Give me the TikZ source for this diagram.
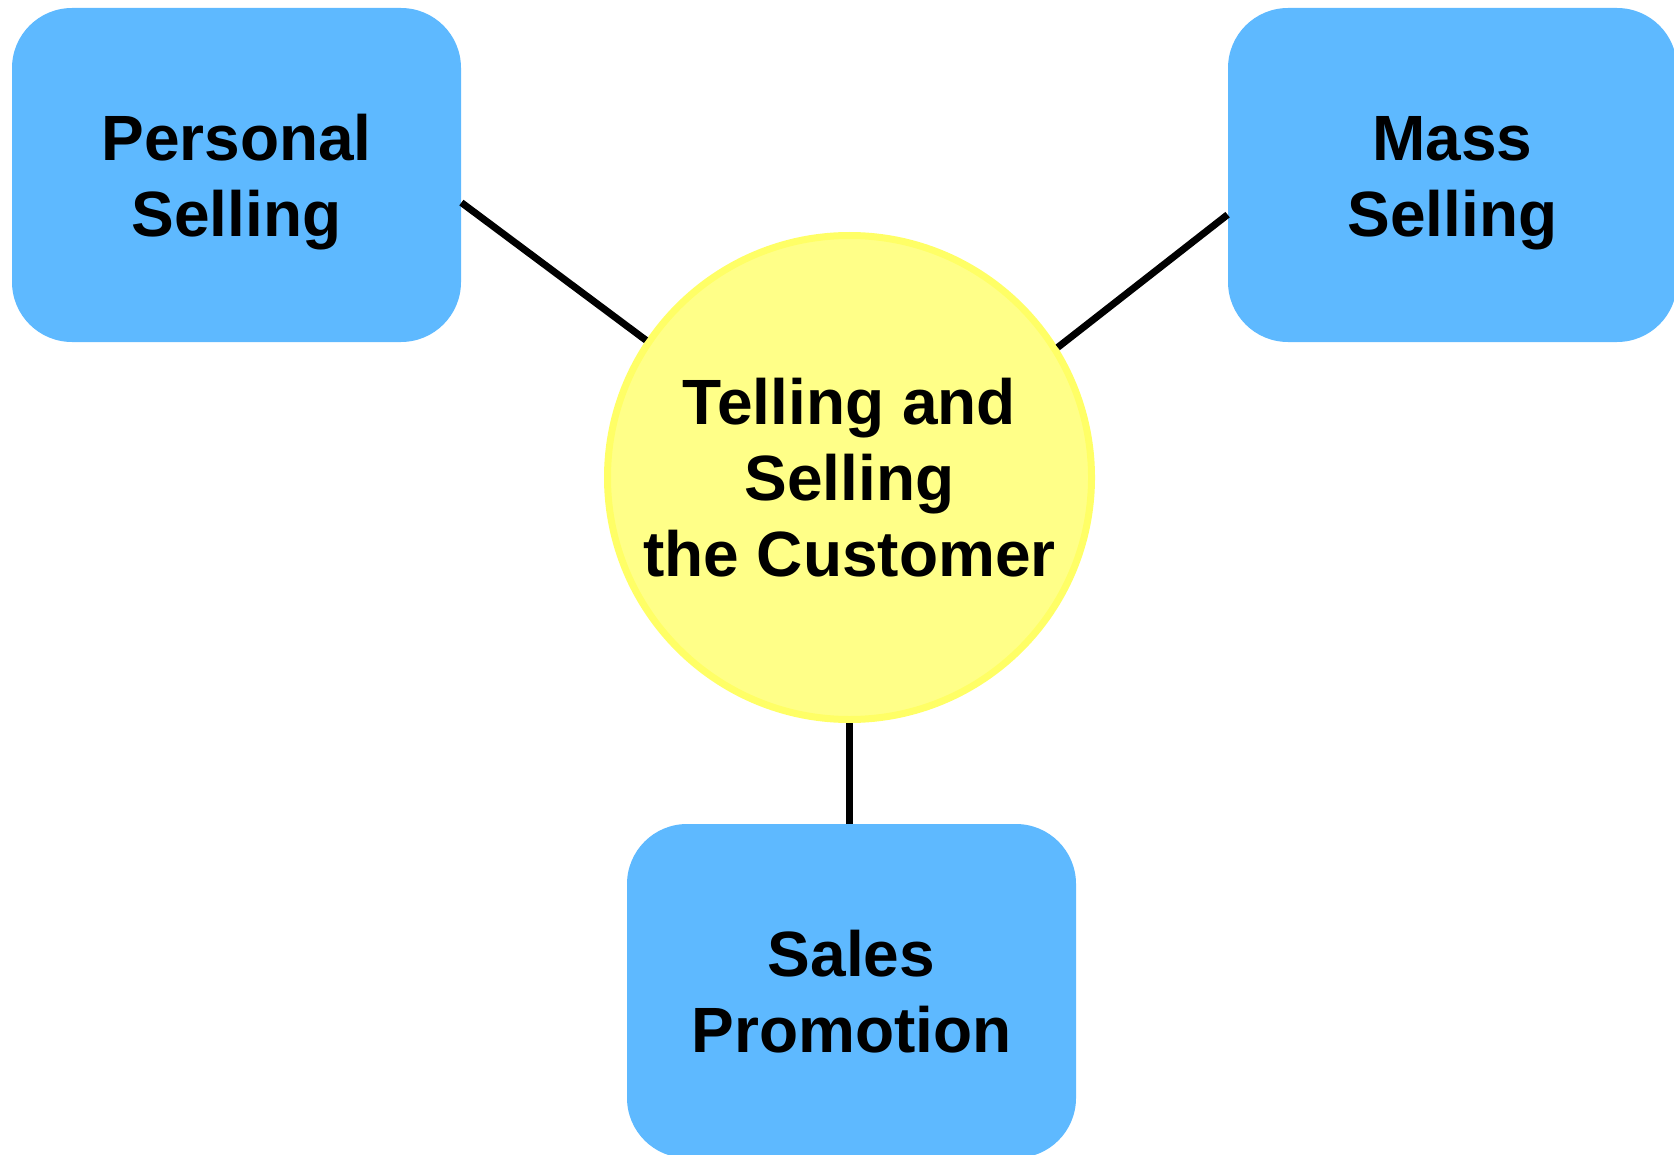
\documentclass[tikz,border=0pt]{standalone}
\usepackage{fontspec}
\setmainfont{Liberation Sans}
\usepackage{xcolor}
\usepackage{tikz}
\usetikzlibrary{positioning}

\definecolor{boxblue}{RGB}{94,185,255}
\definecolor{suncore}{RGB}{255,255,136}
\definecolor{sunrim}{RGB}{255,255,102}
\newcommand{\capstrut}[1][30.5pt]{\rule{0pt}{#1}}

\begin{document}
\begin{tikzpicture}[x=0.5pt,y=0.5pt,yscale=-1,xscale=1,
  labeltext/.style={align=center, inner sep=0pt, font=\fontsize{32}{38}\selectfont\bfseries},
  promobox/.style={labeltext, rectangle, rounded corners=30pt, fill=boxblue,
    minimum width=224.5pt, minimum height=167pt},
  hub/.style={labeltext, circle, fill=suncore, draw=sunrim, line width=3.5pt, minimum size=242pt},
  link/.style={draw=black, line width=3.5pt}]
%set diagram left start at 0, and has height of 1155
\useasboundingbox (0,0) rectangle (1674,1155);
\clip (0,0) rectangle (1674,1155);

%Shape: Circle [id:hub]
\node [hub] (tc) at (849.5,477.5) {\capstrut[22pt]Telling and\\Selling\\the Customer};

%Shape: Rounded Rect [id:boxes]
\node [promobox] (ps) at (236.5,175) {\capstrut Personal\\Selling};
\node [promobox] (ms) at (1452.5,175) {\capstrut Mass\\Selling};
\node [promobox] (sp) at (851.5,991) {\capstrut[24pt]Sales\\Promotion};

%Straight Lines [id:links]
\draw [link] (ps.-7.6) -- (tc.146.2);
\draw [link] (ms.190.1) -- (tc.32.2);
\draw [link] (tc.south) -- (tc.south |- sp.north);

\end{tikzpicture}
\end{document}
